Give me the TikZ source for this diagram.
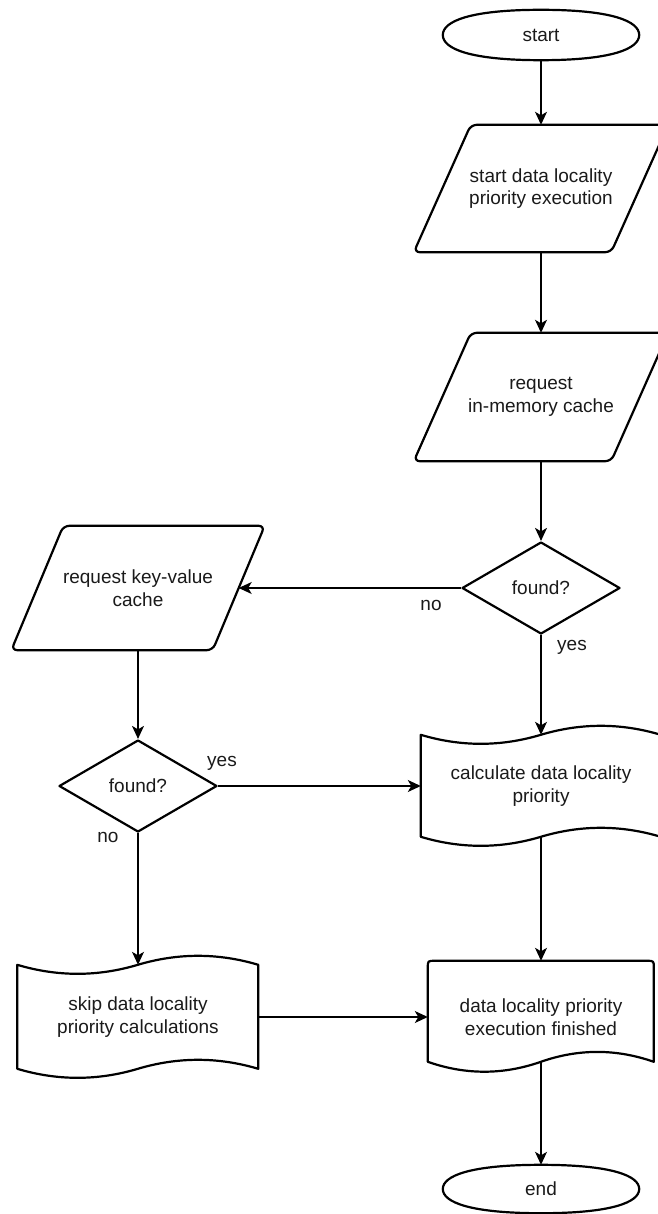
\documentclass[tikz,border=0pt]{standalone}
\usepackage{fontspec}
\setmainfont{Liberation Sans}
\usetikzlibrary{arrows.meta,calc,shapes.geometric}

% outline of a parallelogram leaning right, inside the box of node #1
\newcommand\drawpara[2]{%
  \draw[shapeline, rounded corners=6] ($(#1.north west)+(#2,0)$) -- (#1.north east)
    -- ($(#1.south east)+(-#2,0)$) -- (#1.south west) -- cycle;}

% punched-tape outline (wavy top and bottom): node, width, height, wave depth
\newcommand\drawtape[4]{%
  \begin{scope}[shift={(#1.north west)}]
    \draw[shapeline] (0,#4/2)
      .. controls (#2/6,1.1*#4) and (#2/3,1.1*#4) .. (#2/2,#4/2)
      .. controls (2*#2/3,-0.1*#4) and (5*#2/6,-0.1*#4) .. (#2,#4/2)
      -- (#2,#3-#4/2)
      .. controls (5*#2/6,#3-1.1*#4) and (2*#2/3,#3-1.1*#4) .. (#2/2,#3-#4/2)
      .. controls (#2/3,#3+0.1*#4) and (#2/6,#3+0.1*#4) .. (0,#3-#4/2) -- cycle;
  \end{scope}}

% document outline (flat rounded top, wavy bottom): node, width, height, wave depth
\newcommand\drawdoc[4]{%
  \begin{scope}[shift={(#1.north west)}]
    \draw[shapeline] (#2,#3-#4/2)
      .. controls (5*#2/6,#3-1.1*#4) and (2*#2/3,#3-1.1*#4) .. (#2/2,#3-#4/2)
      .. controls (#2/3,#3+0.1*#4) and (#2/6,#3+0.1*#4) .. (0,#3-#4/2)
      -- (0,7) .. controls (0,0) .. (7,0)
      -- (#2-7,0) .. controls (#2,0) .. (#2,7) -- cycle;
  \end{scope}}

% terminator outline, a flattened ellipse filling node #1
\newcommand\drawterm[1]{%
  \draw[shapeline] (#1.west)
    .. controls ($(#1.west)!0.55!(#1.north west)$) and ($(#1.north)!0.72!(#1.north west)$) .. (#1.north)
    .. controls ($(#1.north)!0.72!(#1.north east)$) and ($(#1.east)!0.55!(#1.north east)$) .. (#1.east)
    .. controls ($(#1.east)!0.55!(#1.south east)$) and ($(#1.south)!0.72!(#1.south east)$) .. (#1.south)
    .. controls ($(#1.south)!0.72!(#1.south west)$) and ($(#1.west)!0.55!(#1.south west)$) .. (#1.west) -- cycle;}

\definecolor{ink}{HTML}{1A1A1A}

\begin{document}
\begin{tikzpicture}[x=1pt,y=-1pt,
  every node/.style={font=\fontsize{19}{22.5}\selectfont, text=ink},
  shapeline/.style={draw=black, line width=2.2pt, line join=round},
  box/.style={rectangle, draw=none, inner sep=0pt, align=center},
  term/.style={box, minimum width=196pt, minimum height=50pt},
  para/.style={box, minimum width=254pt, minimum height=127pt},
  tapebox/.style={box, minimum width=240pt, minimum height=122pt},
  docbox/.style={box, minimum width=226pt, minimum height=112pt},
  decision/.style={diamond, draw=black, line width=2.2pt, line join=round,
    inner sep=0pt, minimum width=158pt, minimum height=92pt},
  flow/.style={draw=black, line width=1.3pt,
    -{Stealth[length=13pt,width=12pt,inset=3.5pt]}},
  lbl/.style={inner sep=0pt}]

\fill[white] (0,0) rectangle (657,1214);
\useasboundingbox (0,0) rectangle (657,1214);

% right column
\node[term] (start) at (541,35) {start};
\node[para] (p1) at (541,188.5) {start data locality\\priority execution};
\node[para, minimum height=128pt] (p2) at (541,397) {request\\in-memory cache};
\node[decision] (d1) at (541,588) {found?};
\node[tapebox] (calc) at (541,786) {calculate data locality\\priority};
\node[docbox] (fin) at (541,1017) {data locality priority\\execution finished};
\node[term, minimum height=48pt] (end) at (541,1189) {end};

% left column
\node[para, minimum width=253pt, minimum height=124pt] (kv) at (138,588) {request key-value\\cache};
\node[decision] (d2) at (138,786) {found?};
\node[tapebox, minimum width=241pt, minimum height=124pt] (skip) at (138,1017) {skip data locality\\priority calculations};

% outlines
\drawterm{start}
\drawpara{p1}{57}
\drawpara{p2}{57}
\drawpara{kv}{52}
\drawtape{calc}{240}{122}{20}
\drawtape{skip}{241}{124}{20}
\drawdoc{fin}{226}{112}{22}
\drawterm{end}

% connector end points on the slanted and wavy edges
\coordinate (kvin) at ($(kv.east)+(-26,0)$);
\coordinate (calcin) at ($(calc.north)+(0,10)$);
\coordinate (calcout) at ($(calc.south)+(0,-10)$);
\coordinate (skipin) at ($(skip.north)+(0,10)$);
\coordinate (finout) at ($(fin.south)+(0,-11)$);

% connectors
\draw[flow] (start.south) -- (p1.north);
\draw[flow] (p1.south) -- (p2.north);
\draw[flow] (p2.south) -- (d1.north);
\draw[flow] (d1.west) -- (kvin);
\draw[flow] (d1.south) -- (calcin);
\draw[flow] (kv.south) -- (d2.north);
\draw[flow] (d2.east) -- (calc.west);
\draw[flow] (d2.south) -- (skipin);
\draw[flow] (calcout) -- (fin.north);
\draw[flow] (skip.east) -- (fin.west);
\draw[flow] (finout) -- (end.north);

% branch labels
\node[lbl] (no1) at (431,605) {no};
\node[lbl] (yes1) at (572,647) {yes};
\node[lbl] (yes2) at (222,763) {yes};
\node[lbl] (no2) at (108,837) {no};

\end{tikzpicture}
\end{document}
